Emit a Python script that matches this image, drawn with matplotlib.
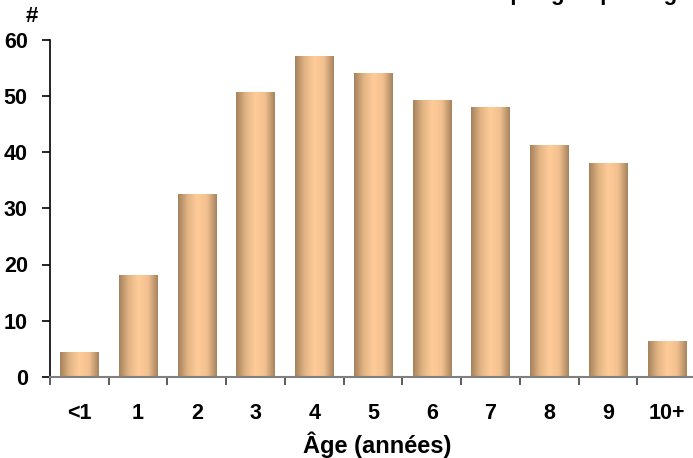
import numpy as np
import matplotlib
matplotlib.use("Agg")
from matplotlib import pyplot as plt
from matplotlib.colors import LinearSegmentedColormap

categories = ['<1', '1', '2', '3', '4', '5', '6', '7', '8', '9', '10+']
counts = [4.4, 18.1, 32.5, 50.5, 56.9, 54.0, 49.1, 48.0, 41.1, 37.9, 6.4]
yticks = [0, 10, 20, 30, 40, 50, 60]

plt.rcParams['font.family'] = ['Liberation Sans', 'DejaVu Sans']
plt.rcParams['font.weight'] = 'bold'

fig = plt.figure(figsize=(6.93, 4.58), dpi=100)
# axes runs a bit past the right edge, like the original
ax = fig.add_axes([50 / 693, 1 - 377 / 458, 646 / 693, 337.5 / 458])

cmap = LinearSegmentedColormap.from_list('tan', ['#a5825d', '#e2b484', '#ffcc99', '#f2c08f', '#a5825d'])
grad = np.linspace(0, 1, 256).reshape(1, -1)

width = 0.65
x = np.arange(len(categories))
for xi, h in zip(x, counts):
    ax.imshow(grad, extent=[xi - width / 2, xi + width / 2, 0, h],
              aspect='auto', cmap=cmap, zorder=2, interpolation='bilinear')

ax.set_xlim(-0.5, len(categories) - 0.5)
ax.set_ylim(0, 60)

ax.spines['top'].set_visible(False)
ax.spines['right'].set_visible(False)
ax.spines['bottom'].set_color('#808080')
ax.spines['bottom'].set_linewidth(1.5)
ax.spines['left'].set_linewidth(1.2)

ax.set_yticks(yticks)
ax.set_yticklabels([str(v) for v in yticks], fontsize=15.5, fontweight='bold')
ax.tick_params(axis='y', length=6, width=1.2, pad=10)

# category ticks sit between the bars
ax.set_xticks(np.arange(len(categories) + 1) - 0.5)
ax.set_xticklabels([])
ax.tick_params(axis='x', length=6, width=1.2, color='#404040')
for xi, lab in zip(x, categories):
    ax.text(xi, -6.5, lab, ha='center', va='center', fontsize=15.5, fontweight='bold')

fig.text(377 / 693, 1 - 445 / 458, 'Âge (années)', ha='center', va='center',
         fontsize=17, fontweight='bold')
fig.text(32 / 693, 1 - 17 / 458, '#', ha='center', va='center', fontsize=16, fontweight='bold')

# title is mostly cut off by the top edge of the image
fig.text(690 / 693, 1.0, "Nombre d'individus par groupe d'âge", ha='right', va='baseline',
         fontsize=16, fontweight='bold')

fig.savefig('out.png', dpi=100)
